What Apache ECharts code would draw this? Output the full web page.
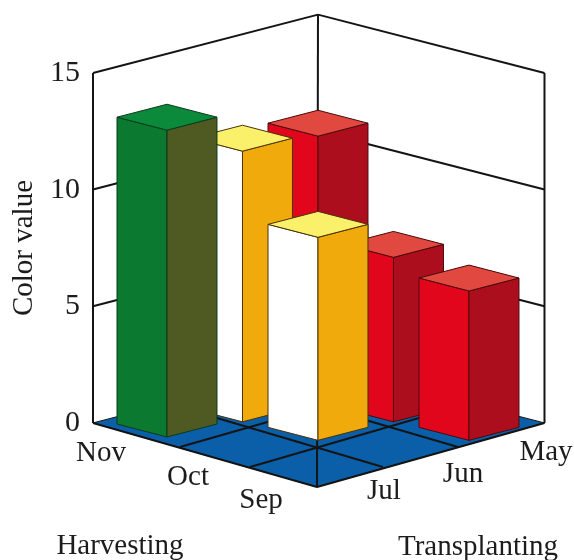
<!DOCTYPE html>
<html>
<head>
<meta charset="utf-8">
<style>html,body{margin:0;padding:0;background:#fff}#c{width:574px;height:560px}</style>
<script src="https://cdn.jsdelivr.net/npm/echarts@6/dist/echarts.min.js"></script>
</head>
<body>
<div id="c"></div>
<script>
// ---- data ----
const harvestMonths = ['Nov', 'Oct', 'Sep'];
const transplantMonths = ['Jul', 'Jun', 'May'];
const barHarvest    = ['Nov', 'Nov', 'Nov', 'Oct', 'Oct', 'Sep'];
const barTransplant = ['Jul', 'Jun', 'May', 'Jun', 'May', 'May'];
const barValues     = [13.15, 11.6, 11.45, 8.7, 7.05, 6.4];
const barColorNames = ['green', 'yellow', 'red', 'yellow', 'red', 'red'];
const valueTicks = [5, 10];

// ---- styles ----
const palette = {
  green:  { left: '#0b7a30', right: '#4f5a22', top: '#0a8a3a', edge: '#0a3a18' },
  yellow: { left: '#ffffff', right: '#f0aa0c', top: '#fbf06a', edge: '#4a3208' },
  red:    { left: '#e2061c', right: '#ad0e1e', top: '#e04840', edge: '#4a0a0a' }
};
const FONT = '"Liberation Serif", serif';
const INK = '#1c1c1c';

// ---- projection: (u, t, v) to axis values ----
const UNIT = 23.33, TSTEP = 18.5;
function axisValue(u, t, v) { return [u, v + (1 - TSTEP * t) / UNIT]; }
const HALF_U = 0.662, HALF_T = 0.7, BAR_SHIFT = 0.11, FAR_SHIFT = 0.18;

// floor frame in (u, t) ground units
const floorLeft = [-0.98, 0.05], floorFront = [1.987, 3.51], floorRight = [5.0, 0.05], floorBack = [2.0, -3.1];
const floorRules = [
  [[0.172, 1.35], [3.0, -1.95]],
  [[1.1, 2.43], [4.0, -1.0]],
  [[2.86, 2.43], [0.01, -1.0]],
  [[3.854, 1.35], [1.0, -2.05]]
];
const TOP = 15;

function renderFrame(params, api) {
  const P = (g, v) => api.coord(axisValue(g[0], g[1], v));
  const children = [];
  const line = (a, b, w) => children.push({
    type: 'line',
    shape: { x1: a[0], y1: a[1], x2: b[0], y2: b[1] },
    style: { stroke: '#141414', lineWidth: w || 2, fill: null }
  });
  children.push({
    type: 'polygon',
    shape: { points: [P(floorLeft, 0), P(floorFront, 0), P(floorRight, 0), P(floorBack, 0)] },
    style: { fill: '#0b5fa8', stroke: '#141414', lineWidth: 1 }
  });
  floorRules.forEach(r => line(P(r[0], 0), P(r[1], 0), 2));
  // walls
  line(P(floorLeft, 0), P(floorLeft, TOP));
  line(P(floorRight, 0), P(floorRight, TOP));
  line(P(floorBack, TOP), P(floorFront, 0));
  line(P(floorLeft, TOP), P(floorBack, TOP));
  line(P(floorBack, TOP), P(floorRight, TOP));
  valueTicks.forEach(v => {
    line(P(floorLeft, v), P(floorBack, v));
    line(P(floorBack, v), P(floorRight, v));
  });
  line(P(floorLeft, 0), P(floorFront, 0));
  line(P(floorFront, 0), P(floorRight, 0));
  return { type: 'group', children };
}

function renderBar(params, api) {
  const a = api.value(0), b = api.value(1), v = api.value(2);
  const c = palette[barColorNames[api.value(3)]];
  const u = a + b, t = a - b + BAR_SHIFT + (u > 0 ? FAR_SHIFT : 0);
  const P = (du, dt, h) => api.coord(axisValue(u + du, t + dt, h));
  const poly = (pts, fill) => ({
    type: 'polygon',
    shape: { points: pts },
    style: { fill, stroke: c.edge, lineWidth: 1, lineJoin: 'round' }
  });
  return {
    type: 'group',
    children: [
      poly([P(-HALF_U, 0, 0), P(0, HALF_T, 0), P(0, HALF_T, v), P(-HALF_U, 0, v)], c.left),
      poly([P(0, HALF_T, 0), P(HALF_U, 0, 0), P(HALF_U, 0, v), P(0, HALF_T, v)], c.right),
      poly([P(-HALF_U, 0, v), P(0, HALF_T, v), P(HALF_U, 0, v), P(0, -HALF_T, v)], c.top)
    ]
  };
}

// back-to-front order for painting
const barRows = barValues.map((v, i) => [
  harvestMonths.indexOf(barHarvest[i]),
  transplantMonths.indexOf(barTransplant[i]),
  v,
  i
]).sort((p, q) => (p[0] - p[1]) - (q[0] - q[1]));

const textAt = (text, x, y, size) => ({
  type: 'text', x, y,
  style: { text, font: (size || 29) + 'px ' + FONT, fill: INK, textAlign: 'center', textVerticalAlign: 'middle' }
});

const chart = echarts.init(document.getElementById('c'), null, { renderer: 'canvas' });
chart.setOption({
  animation: false,
  backgroundColor: '#ffffff',
  grid: { left: 93, top: 73, width: 453, height: 350, outerBoundsMode: 'none' },
  xAxis: { type: 'value', min: -0.98, max: 5.02, show: false },
  yAxis: {
    type: 'value', min: 0, max: 15, interval: 5,
    name: 'Color value', nameLocation: 'middle', nameRotate: 90, nameGap: 54,
    nameTextStyle: { fontFamily: FONT, fontSize: 29, color: INK },
    axisLine: { show: false }, axisTick: { show: false }, splitLine: { show: false },
    axisLabel: { margin: 13, fontFamily: FONT, fontSize: 30, color: INK, padding: [4, 0, 0, 0] }
  },
  graphic: [
    textAt(harvestMonths[0], 101, 453), textAt(harvestMonths[1], 188, 477), textAt(harvestMonths[2], 261, 500),
    textAt(transplantMonths[0], 384, 491), textAt(transplantMonths[1], 463, 474), textAt(transplantMonths[2], 546, 452),
    textAt('Harvesting', 120, 546), textAt('Transplanting', 478, 547)
  ],
  series: [
    { type: 'custom', data: [[0, 0]], renderItem: renderFrame, silent: true, z: 1, clip: false },
    { type: 'custom', data: barRows, renderItem: renderBar, z: 2, clip: false, encode: { x: 0, y: 2 } }
  ]
});
</script>
</body>
</html>
